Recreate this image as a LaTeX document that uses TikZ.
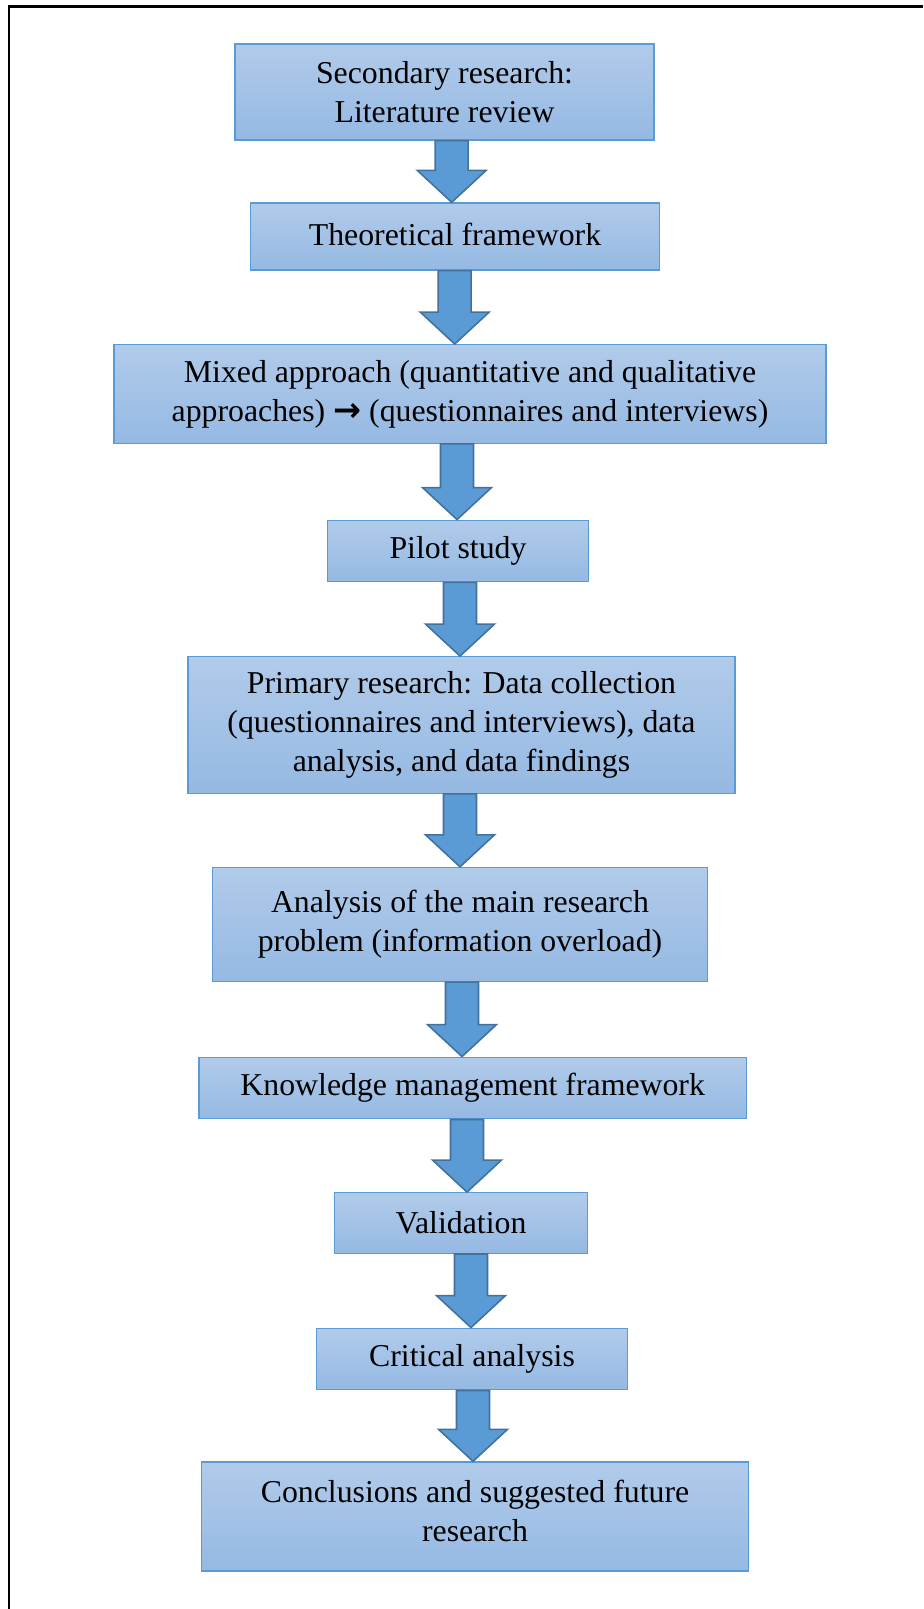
\documentclass[tikz,border=0pt]{standalone}
\usepackage{fontspec}
\setmainfont{Liberation Serif}
\newfontfamily\symfont{DejaVu Sans}
\usetikzlibrary{calc}

\definecolor{boxtop}{RGB}{177,203,234}
\definecolor{boxbottom}{RGB}{149,185,227}
\definecolor{boxline}{RGB}{91,155,213}
\definecolor{arrowfill}{RGB}{91,155,213}
\definecolor{arrowline}{RGB}{65,113,156}

% block arrow: #1 upper box, #2 lower box, #3 x of the arrow
\newcommand{\flowarrow}[3]{%
  \path[flowarrow] let \p1=(#1.south), \p2=(#2.north), \p3=(#3,0),
      \n1={0.33cm}, \n2={0.69cm}, \n3={0.64cm} in
    ({\x3-\n1},\y1) -- ({\x3+\n1},\y1) -- ({\x3+\n1},{\y2+\n3})
    -- ({\x3+\n2},{\y2+\n3}) -- (\x3,\y2) -- ({\x3-\n2},{\y2+\n3})
    -- ({\x3-\n1},{\y2+\n3}) -- cycle;}

\begin{document}
\begin{tikzpicture}[
    x=0.02cm, y=-0.02cm,
    stepbox/.style={draw=boxline, line width=0.8pt, top color=boxtop,
        bottom color=boxbottom, align=center, inner sep=0pt,
        font=\fontsize{18.1}{22.2}\selectfont},
    flowarrow/.style={fill=arrowfill, draw=arrowline, line width=0.9pt,
        line join=miter}
]
    \useasboundingbox (0,0) rectangle (923,1609);
    % Frame, top and left sides only
    \draw[line width=0.06cm] (9,1609) -- (9,6.5) -- (923,6.5);

    % Boxes, top to bottom
    \node[stepbox, minimum width=8.38cm, minimum height=1.92cm] (secondary) at (444.5,92)
        {Secondary research:\\Literature review};
    \node[stepbox, minimum width=8.17cm, minimum height=1.34cm] (theory) at (455,236.5)
        {\raisebox{2pt}{Theoretical framework}};
    \node[stepbox, minimum width=14.25cm, minimum height=1.97cm] (mixed) at (470,394)
        {Mixed approach (quantitative and qualitative\\approaches) {\symfont\bfseries\fontsize{19}{19}\selectfont →} (questionnaires and interviews)};
    \node[stepbox, minimum width=5.23cm, minimum height=1.23cm] (pilot) at (458,551)
        {Pilot study};
    \node[stepbox, minimum width=10.94cm, minimum height=2.73cm] (primary) at (461.5,725)
        {Primary research: Data collection\\(questionnaires and interviews), data\\analysis, and data findings};
    \node[stepbox, minimum width=9.9cm, minimum height=2.28cm] (problem) at (460,924.5)
        {Analysis of the main research\\problem (information overload)};
    \node[stepbox, minimum width=10.95cm, minimum height=1.23cm] (kmf) at (472.7,1088)
        {Knowledge management framework};
    \node[stepbox, minimum width=5.05cm, minimum height=1.21cm] (validation) at (461,1223)
        {Validation};
    \node[stepbox, minimum width=6.21cm, minimum height=1.23cm] (critical) at (472,1359)
        {Critical analysis};
    \node[stepbox, minimum width=10.95cm, minimum height=2.18cm] (conclusions) at (475,1516.5)
        {Conclusions and suggested future\\research\\[-16pt]};

    % Arrows between the boxes
    \flowarrow{secondary}{theory}{451.7}
    \flowarrow{theory}{mixed}{454.7}
    \flowarrow{mixed}{pilot}{457}
    \flowarrow{pilot}{primary}{460}
    \flowarrow{primary}{problem}{460}
    \flowarrow{problem}{kmf}{462}
    \flowarrow{kmf}{validation}{467}
    \flowarrow{validation}{critical}{471}
    \flowarrow{critical}{conclusions}{473}
\end{tikzpicture}
\end{document}
